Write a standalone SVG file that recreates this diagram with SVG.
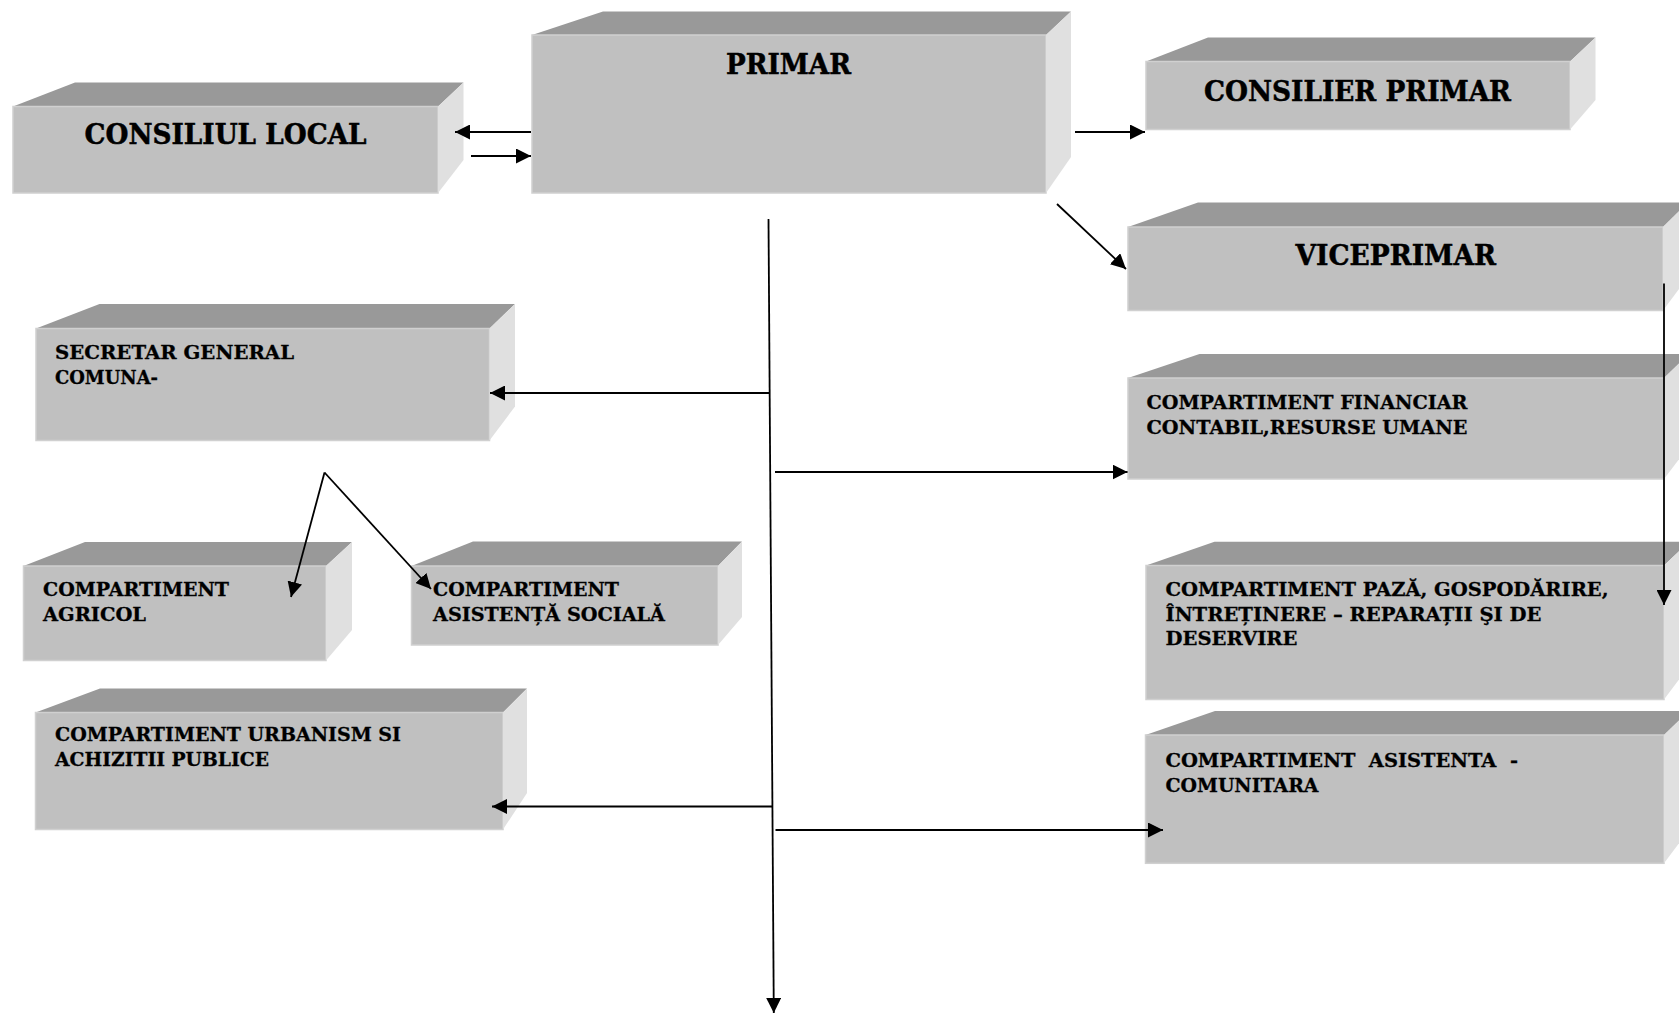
<svg xmlns="http://www.w3.org/2000/svg" width="1679" height="1014" viewBox="0 0 1679 1014">
<style>
.top{fill:#999999}
.front{fill:#c0c0c0;stroke:#d0d0d0;stroke-width:1.5}
.side{fill:#e0e0e0}
.big{font-family:"DejaVu Serif","Liberation Serif",serif;font-weight:bold;font-size:27px;fill:#000;stroke:#000;stroke-width:0.5px}
.small{font-family:"DejaVu Serif","Liberation Serif",serif;font-weight:bold;font-size:18.5px;fill:#000;stroke:#000;stroke-width:0.3px;white-space:pre}
.conn line{stroke:#000;stroke-width:1.8;fill:none}
.conn .a{marker-end:url(#ah)}
</style>
<defs>
<marker id="ah" markerUnits="userSpaceOnUse" markerWidth="16" markerHeight="15" refX="15" refY="7.5" orient="auto"><path d="M0,0 L15,7.5 L0,15 z" fill="#000"/></marker>
</defs>
<rect width="1679" height="1014" fill="#fff"/>

<g id="consiliul-local">
<polygon class="top" points="13,106.5 75,82.5 463.5,82.5 438,106.5"/>
<rect class="front" x="13" y="106.5" width="425" height="86.5"/>
<polygon class="side" points="438,106.5 463.5,82.5 463.5,160 438,193"/>
<text class="big" x="84.6" y="144" textLength="282" lengthAdjust="spacingAndGlyphs">CONSILIUL LOCAL</text>
</g>

<g id="primar">
<polygon class="top" points="532,35 603,11.5 1071,11.5 1046,35"/>
<rect class="front" x="532" y="35" width="514" height="158"/>
<polygon class="side" points="1046,35 1071,11.5 1071,157 1046,193"/>
<text class="big" x="726" y="74" textLength="125" lengthAdjust="spacingAndGlyphs">PRIMAR</text>
</g>

<g id="consilier-primar">
<polygon class="top" points="1146,61.5 1208,37.5 1595.5,37.5 1570,61.5"/>
<rect class="front" x="1146" y="61.5" width="424" height="68"/>
<polygon class="side" points="1570,61.5 1595.5,37.5 1595.5,100 1570,129.5"/>
<text class="big" x="1204" y="100.5" textLength="307" lengthAdjust="spacingAndGlyphs">CONSILIER PRIMAR</text>
</g>

<g id="viceprimar">
<polygon class="top" points="1128,227 1198,202.5 1688,202.5 1663,227"/>
<rect class="front" x="1128" y="227" width="535" height="83.5"/>
<polygon class="side" points="1663,227 1688,202.5 1688,277 1663,310.5"/>
<text class="big" x="1295.5" y="264.5" textLength="200.5" lengthAdjust="spacingAndGlyphs">VICEPRIMAR</text>
</g>

<g id="secretar-general">
<polygon class="top" points="36,328.5 99.5,304 515,304 489.5,328.5"/>
<rect class="front" x="36" y="328.5" width="453.5" height="112"/>
<polygon class="side" points="489.5,328.5 515,304 515,406.5 489.5,440.5"/>
<text class="small" x="55" y="359" textLength="239" lengthAdjust="spacingAndGlyphs">SECRETAR GENERAL</text>
<text class="small" x="55" y="384" textLength="103" lengthAdjust="spacingAndGlyphs">COMUNA-</text>
</g>

<g id="compartiment-agricol">
<polygon class="top" points="23.5,566 85,542 352,542 326,566"/>
<rect class="front" x="23.5" y="566" width="302.5" height="94.5"/>
<polygon class="side" points="326,566 352,542 352,630 326,660.5"/>
<text class="small" x="43" y="596" textLength="186" lengthAdjust="spacingAndGlyphs">COMPARTIMENT</text>
<text class="small" x="43" y="621" textLength="103" lengthAdjust="spacingAndGlyphs">AGRICOL</text>
</g>

<g id="compartiment-asistenta-sociala">
<polygon class="top" points="411.5,566 473,541.5 742,541.5 718,566"/>
<rect class="front" x="411.5" y="566" width="306.5" height="79"/>
<polygon class="side" points="718,566 742,541.5 742,617 718,645"/>
<text class="small" x="433" y="596" textLength="186" lengthAdjust="spacingAndGlyphs">COMPARTIMENT</text>
<text class="small" x="433" y="621" textLength="232" lengthAdjust="spacingAndGlyphs">ASISTENȚĂ SOCIALĂ</text>
</g>

<g id="compartiment-urbanism">
<polygon class="top" points="35.5,712.5 100,688.5 527,688.5 503,712.5"/>
<rect class="front" x="35.5" y="712.5" width="467.5" height="117"/>
<polygon class="side" points="503,712.5 527,688.5 527,793 503,829.5"/>
<text class="small" x="55" y="741" textLength="346" lengthAdjust="spacingAndGlyphs">COMPARTIMENT URBANISM SI</text>
<text class="small" x="55" y="766" textLength="214" lengthAdjust="spacingAndGlyphs">ACHIZITII PUBLICE</text>
</g>

<g id="compartiment-financiar">
<polygon class="top" points="1128,378 1199.5,354 1689,354 1664,378"/>
<rect class="front" x="1128" y="378" width="536" height="101"/>
<polygon class="side" points="1664,378 1689,354 1689,446 1664,479"/>
<text class="small" x="1146.5" y="408.5" textLength="321" lengthAdjust="spacingAndGlyphs">COMPARTIMENT FINANCIAR</text>
<text class="small" x="1146.5" y="433.5" textLength="321" lengthAdjust="spacingAndGlyphs">CONTABIL,RESURSE UMANE</text>
</g>

<g id="compartiment-paza">
<polygon class="top" points="1146,565.5 1214.5,541.7 1689,541.7 1664,565.5"/>
<rect class="front" x="1146" y="565.5" width="518" height="134"/>
<polygon class="side" points="1664,565.5 1689,541.7 1689,666 1664,699.5"/>
<text class="small" x="1165.5" y="595.5" textLength="443" lengthAdjust="spacingAndGlyphs">COMPARTIMENT PAZĂ, GOSPODĂRIRE,</text>
<text class="small" x="1165.5" y="620.5" textLength="376" lengthAdjust="spacingAndGlyphs">ÎNTREȚINERE – REPARAȚII ŞI DE</text>
<text class="small" x="1165.5" y="645" textLength="132" lengthAdjust="spacingAndGlyphs">DESERVIRE</text>
</g>

<g id="compartiment-asistenta-comunitara">
<polygon class="top" points="1145.5,735 1215,711 1689,711 1664,735"/>
<rect class="front" x="1145.5" y="735" width="518.5" height="128.3"/>
<polygon class="side" points="1664,735 1689,711 1689,830 1664,863.3"/>
<text class="small" x="1165.5" y="767" textLength="352.5" lengthAdjust="spacingAndGlyphs">COMPARTIMENT  ASISTENTA  -</text>
<text class="small" x="1165.5" y="792" textLength="153" lengthAdjust="spacingAndGlyphs">COMUNITARA</text>
</g>

<g id="connectors" class="conn">
<line class="a" x1="531" y1="132" x2="455" y2="132"/>
<line class="a" x1="471" y1="156" x2="531" y2="156"/>
<line class="a" x1="1075" y1="132" x2="1145" y2="132"/>
<line class="a" x1="1057" y1="204" x2="1126" y2="269"/>
<line class="a" x1="1664" y1="283.5" x2="1664" y2="605"/>
<line class="a" x1="768.5" y1="219" x2="773.8" y2="1013"/>
<line class="a" x1="769.8" y1="393" x2="490" y2="393"/>
<line class="a" x1="775" y1="472" x2="1127.5" y2="472"/>
<line class="a" x1="772" y1="806.5" x2="492" y2="806.5"/>
<line class="a" x1="775.5" y1="830" x2="1163" y2="830"/>
<line class="a" x1="324.5" y1="472.5" x2="291" y2="597"/>
<line class="a" x1="324.5" y1="472.5" x2="431" y2="589"/>
</g>
</svg>
